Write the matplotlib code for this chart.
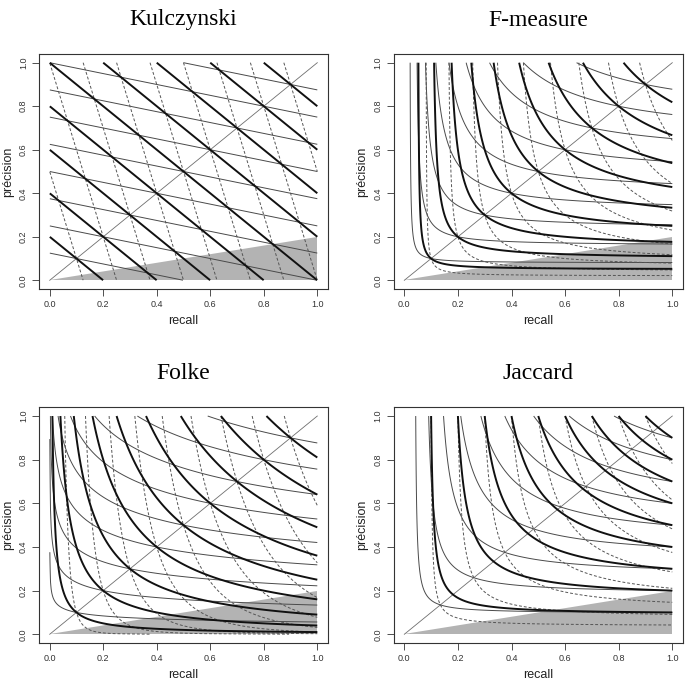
import numpy as np
import matplotlib
matplotlib.use("Agg")
import matplotlib.pyplot as plt

# ---- data ----
titles = ["Kulczynski", "F-measure", "Folke", "Jaccard"]
levels = [0.1, 0.2, 0.3, 0.4, 0.5, 0.6, 0.7, 0.8, 0.9]
# weights (precision weight, recall weight) for: thick (balanced), thin (precision), dashed (recall)
mean_weights = [(0.5, 0.5), (0.8, 0.2), (0.2, 0.8)]
jaccard_weights = [(1.0, 1.0), (1.0, 0.4), (0.4, 1.0)]
shade_recall = [0.0, 1.0, 1.0]
shade_precision = [0.0, 0.0, 0.2]
diag = [0.0, 1.0]
tick_vals = [0.0, 0.2, 0.4, 0.6, 0.8, 1.0]
tick_labels = ["0.0", "0.2", "0.4", "0.6", "0.8", "1.0"]


def kulczynski(P, R, w):
    return w[0] * P + w[1] * R


def fmeasure(P, R, w):
    return 1.0 / (w[0] / P + w[1] / R)


def folke(P, R, w):
    return P ** w[0] * R ** w[1]


def jaccard(P, R, w):
    return 1.0 / (1.0 + w[0] * (1.0 / P - 1.0) + w[1] * (1.0 / R - 1.0))


measures = [kulczynski, fmeasure, folke, jaccard]
weights = [mean_weights, mean_weights, mean_weights, jaccard_weights]

W, H = 685, 687
fig = plt.figure(figsize=(W / 100, H / 100), dpi=100)

# pixel boxes (left, top, right, bottom)
boxes = [(39, 54, 328, 289), (393.6, 54, 683, 289),
         (39, 407.3, 328, 643), (393.6, 407.3, 683, 643)]

g = np.linspace(0.0005, 1.0, 401)
R, P = np.meshgrid(g, g)

for title, meas, wts, box in zip(titles, measures, weights, boxes):
    l, t, r, b = box
    ax = fig.add_axes([l / W, 1 - b / H, (r - l) / W, (b - t) / H])
    ax.set_xlim(-0.04, 1.04)
    ax.set_ylim(-0.04, 1.04)
    ax.fill(shade_recall, shade_precision, color="#b3b3b3", lw=0, zorder=1)
    ax.plot(diag, diag, color="#6e6e6e", lw=0.6, zorder=2)
    ax.contour(R, P, meas(P, R, wts[1]), levels=levels,
               colors="#4a4a4a", linewidths=0.7, linestyles="solid", zorder=3)
    ax.contour(R, P, meas(P, R, wts[2]), levels=levels,
               colors="#555555", linewidths=0.7, linestyles=[(0, (3, 2))], zorder=3)
    ax.contour(R, P, meas(P, R, wts[0]), levels=levels,
               colors="#111111", linewidths=1.4, linestyles="solid", zorder=4)
    ax.set_xticks(tick_vals)
    ax.set_xticklabels(tick_labels, family="Liberation Sans")
    ax.set_yticks(tick_vals)
    ax.set_yticklabels(tick_labels, rotation=90, va="center", family="Liberation Sans")
    ax.tick_params(direction="out", length=5, width=0.6, labelsize=6.5,
                   colors="#333333", pad=3)
    for s in ax.spines.values():
        s.set_color("#333333")
        s.set_linewidth(0.8)
    cx = (l + r) / 2
    fig.text(cx / W, 1 - (t - 34) / H, title, ha="center", va="center",
             fontsize=17, family="Liberation Serif")
    fig.text(cx / W, 1 - (b + 32) / H, "recall", ha="center", va="center",
             fontsize=9, color="#222222", family="Liberation Sans")
    fig.text((l - 31) / W, 1 - ((t + b) / 2) / H, "précision", ha="center",
             va="center", rotation=90, fontsize=9, color="#222222",
             family="Liberation Sans")

fig.savefig("out.png", dpi=100)
